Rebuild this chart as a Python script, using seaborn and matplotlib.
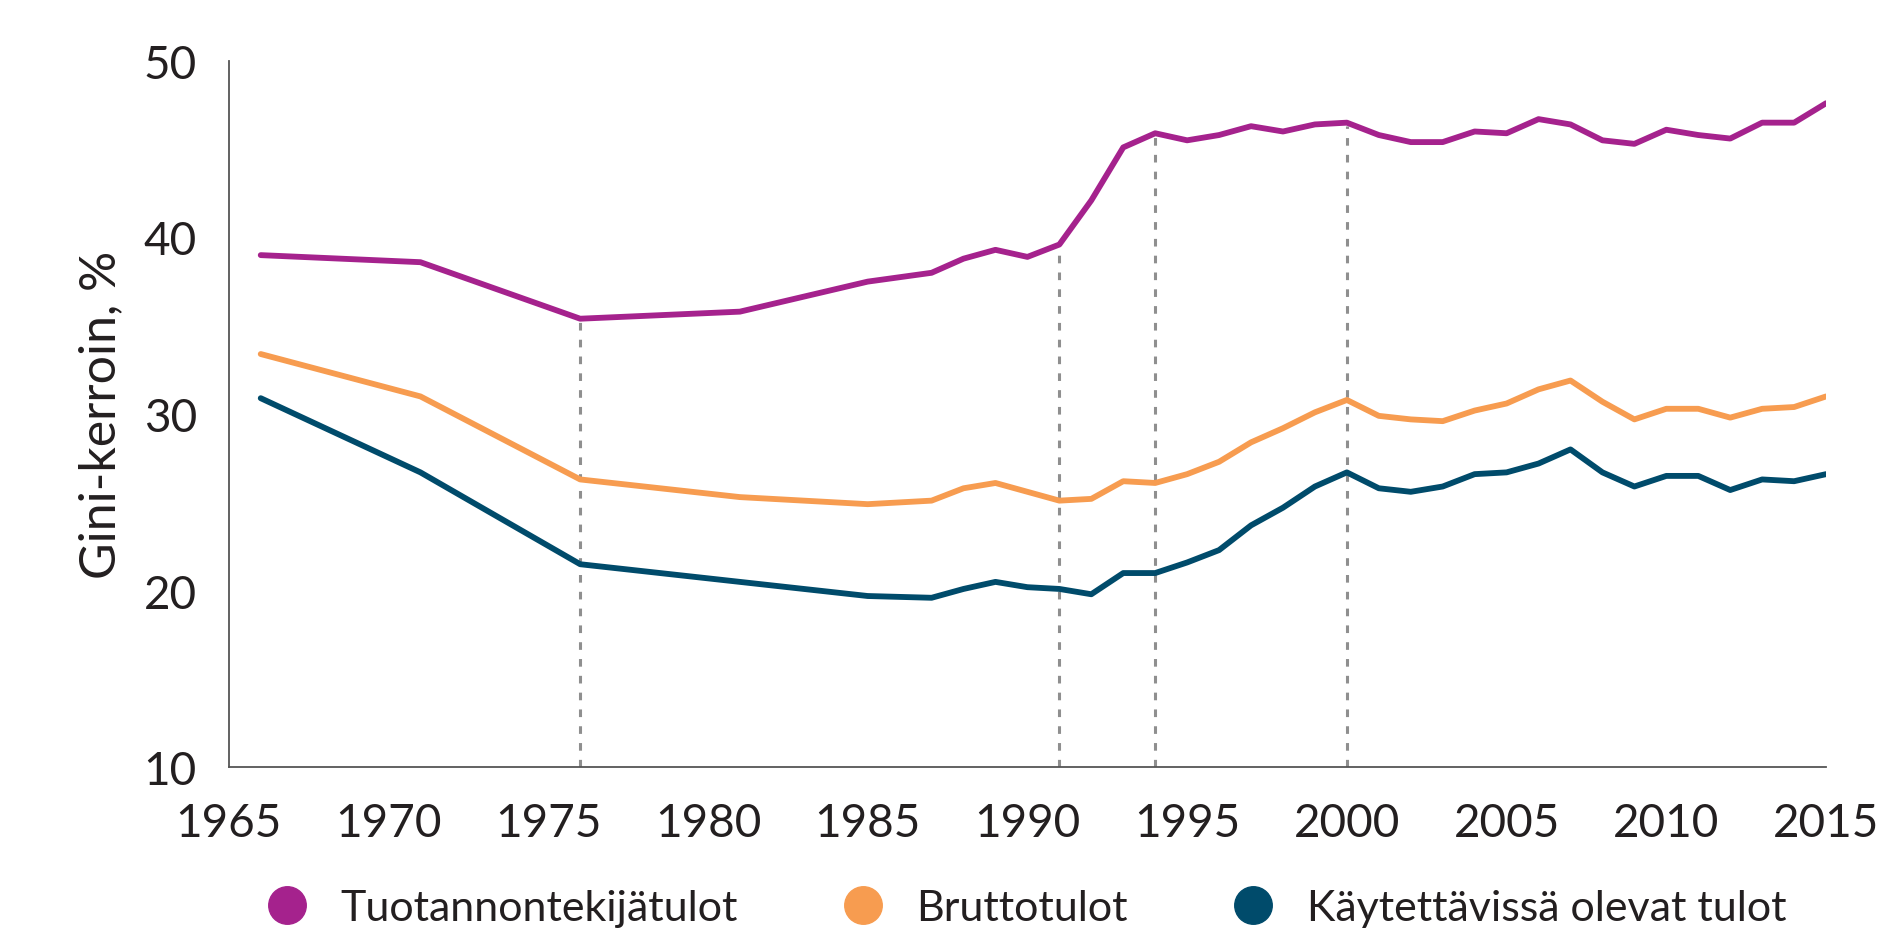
import pandas as pd
import matplotlib
matplotlib.use("Agg")
import matplotlib.pyplot as plt
import seaborn as sns
from matplotlib.lines import Line2D

# ----------------------
# Data (Gini-kerroin, %)
# ----------------------
years = [1966, 1971, 1976, 1981, 1985, 1987, 1988, 1989, 1990, 1991,
         1992, 1993, 1994, 1995, 1996, 1997, 1998, 1999, 2000, 2001,
         2002, 2003, 2004, 2005, 2006, 2007, 2008, 2009, 2010, 2011,
         2012, 2013, 2014, 2015]

tuotannontekijatulot = [39.0, 38.6, 35.4, 35.8, 37.5, 38.0, 38.8, 39.3, 38.9, 39.6,
                        42.1, 45.1, 45.9, 45.5, 45.8, 46.3, 46.0, 46.4, 46.5, 45.8,
                        45.4, 45.4, 46.0, 45.9, 46.7, 46.4, 45.5, 45.3, 46.1, 45.8,
                        45.6, 46.5, 46.5, 47.6]

bruttotulot = [33.4, 31.0, 26.3, 25.3, 24.9, 25.1, 25.8, 26.1, 25.6, 25.1,
               25.2, 26.2, 26.1, 26.6, 27.3, 28.4, 29.2, 30.1, 30.8, 29.9,
               29.7, 29.6, 30.2, 30.6, 31.4, 31.9, 30.7, 29.7, 30.3, 30.3,
               29.8, 30.3, 30.4, 31.0]

kaytettavissa = [30.9, 26.7, 21.5, 20.5, 19.7, 19.6, 20.1, 20.5, 20.2, 20.1,
                 19.8, 21.0, 21.0, 21.6, 22.3, 23.7, 24.7, 25.9, 26.7, 25.8,
                 25.6, 25.9, 26.6, 26.7, 27.2, 28.0, 26.7, 25.9, 26.5, 26.5,
                 25.7, 26.3, 26.2, 26.6]

series_names = ["Tuotannontekijätulot", "Bruttotulot", "Käytettävissä olevat tulot"]
colors = ["#A5228D", "#F79C50", "#004B6B"]

marker_years = [1976, 1991, 1994, 2000]

df = pd.DataFrame({
    "vuosi": years * 3,
    "gini": tuotannontekijatulot + bruttotulot + kaytettavissa,
    "sarja": [series_names[0]] * len(years) + [series_names[1]] * len(years)
             + [series_names[2]] * len(years),
})

# ----------------------
# Plot
# ----------------------
sns.set_theme(style="white")
plt.rcParams["font.family"] = ["Lato", "DejaVu Sans"]

fig = plt.figure(figsize=(18.97, 9.37), dpi=100)
ax = fig.add_axes([0.1206, 0.180, 0.842, 0.754])

# dashed guide lines up to the top series
top = dict(zip(years, tuotannontekijatulot))
for yr in marker_years:
    ax.plot([yr, yr], [10, top[yr] - 0.2], color="#8f8f8f", lw=2.2,
            ls=(0, (2.5, 3)), zorder=1)

sns.lineplot(data=df, x="vuosi", y="gini", hue="sarja", palette=colors,
             hue_order=series_names, linewidth=4.2, ax=ax, legend=False,
             zorder=3)

ax.set_xlim(1965, 2015)
ax.set_ylim(10, 50)
ax.set_xticks(range(1965, 2016, 5))
ax.set_yticks([10, 20, 30, 40, 50])
ax.set_xlabel("")
ax.set_ylabel("Gini-kerroin, %", fontsize=36, color="#231f20", labelpad=14)

for side in ["top", "right"]:
    ax.spines[side].set_visible(False)
for side in ["left", "bottom"]:
    ax.spines[side].set_color("#555555")
    ax.spines[side].set_linewidth(1.3)

ax.tick_params(axis="both", which="major", length=15, width=1.3,
               color="#555555", labelsize=33, labelcolor="#231f20",
               direction="out")
ax.tick_params(axis="y", pad=8)
ax.tick_params(axis="x", pad=10)

# legend with round markers
handles = [Line2D([0], [0], marker="o", linestyle="none", markersize=27,
                  markerfacecolor=c, markeredgecolor=c) for c in colors]
fig.legend(handles, series_names, loc="center", ncol=3,
           bbox_to_anchor=(0.535, 0.030), frameon=False, fontsize=31,
           handletextpad=0.25, columnspacing=1.9, labelcolor="#231f20")

fig.savefig("out.png", dpi=100)
